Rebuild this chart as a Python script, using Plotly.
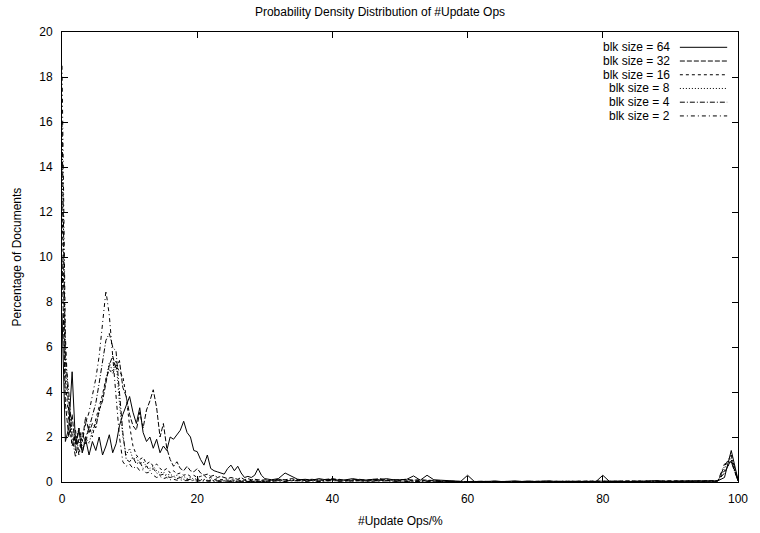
import plotly.graph_objects as go

# x positions (% update ops): 0..30 every 0.5, then 31..100 every 1
x_pct = [i * 0.5 for i in range(61)] + list(range(31, 101))

series_names = ["blk size = 64", "blk size = 32", "blk size = 16",
                "blk size = 8", "blk size = 4", "blk size = 2"]

blk64 = [7.5, 1.8, 2.4, 4.9, 1.7, 2.3, 1.3, 1.9, 1.2, 1.8,
         1.4, 2.0, 1.2, 1.6, 2.1, 1.3, 1.7, 2.5, 3.0, 3.4,
         3.8, 3.1, 2.6, 3.3, 2.2, 1.8, 2.0, 1.5, 1.9, 1.3,
         1.6, 1.4, 2.0, 1.9, 2.1, 2.3, 2.7, 2.2, 2.0, 1.4,
         1.35, 1.0, 0.75, 1.2, 0.6, 0.5, 0.45, 0.4, 0.35, 0.6,
         0.75, 0.5, 0.7, 0.4, 0.2, 0.25, 0.2, 0.3, 0.6, 0.3,
         0.15,
         0.1, 0.15, 0.4, 0.25, 0.1, 0.12, 0.08, 0.15, 0.1, 0.12,
         0.08, 0.1, 0.15, 0.1, 0.08, 0.12, 0.1, 0.15, 0.1, 0.1,
         0.12, 0.27, 0.08, 0.3, 0.1, 0.08, 0.06, 0.03, 0.03, 0.3,
         0.02, 0.03, 0.02, 0.05, 0.02, 0.03, 0.05, 0.02, 0.04, 0.02,
         0.03, 0.05, 0.02, 0.02, 0.04, 0.02, 0.05, 0.02, 0.02, 0.3,
         0.02, 0.02, 0.03, 0.02, 0.02, 0.02, 0.03, 0.06, 0.02, 0.02,
         0.02, 0.02, 0.02, 0.02, 0.02, 0.02, 0.05, 0.2, 1.4, 0.1]

blk32 = [10.0, 3.5, 2.0, 3.0, 1.4, 2.4, 1.8, 2.9, 2.2, 2.6,
         2.4, 3.2, 3.6, 4.5, 5.2, 5.6, 5.0, 5.4, 4.2, 3.8,
         3.0, 2.5, 2.3, 3.1, 2.4, 3.2, 3.6, 4.1, 3.3, 2.0,
         2.6, 1.5, 1.0, 0.7, 0.9, 0.6, 0.5, 0.7, 0.5, 0.45,
         0.6, 0.4, 0.3, 0.35, 0.25, 0.3, 0.2, 0.25, 0.2, 0.15,
         0.2, 0.15, 0.12, 0.2, 0.1, 0.15, 0.1, 0.12, 0.1, 0.08,
         0.1,
         0.08, 0.12, 0.1, 0.15, 0.08, 0.1, 0.12, 0.08, 0.1, 0.15,
         0.1, 0.08, 0.1, 0.12, 0.08, 0.1, 0.15, 0.1, 0.08, 0.1,
         0.12, 0.08, 0.1, 0.08, 0.06, 0.05, 0.04, 0.03, 0.02, 0.03,
         0.02, 0.02, 0.03, 0.02, 0.02, 0.03, 0.02, 0.02, 0.02, 0.03,
         0.02, 0.02, 0.02, 0.03, 0.02, 0.02, 0.02, 0.02, 0.02, 0.02,
         0.02, 0.02, 0.02, 0.02, 0.02, 0.02, 0.02, 0.03, 0.02, 0.02,
         0.02, 0.02, 0.02, 0.02, 0.02, 0.02, 0.05, 0.4, 1.0, 0.05]

blk16 = [12.5, 4.5, 2.8, 1.6, 2.1, 1.3, 2.2, 1.7, 2.5, 2.0,
         2.8, 3.3, 3.9, 4.6, 5.0, 4.8, 5.2, 4.9, 4.7, 3.8,
         2.5, 1.6, 1.2, 1.0, 1.1, 0.8, 0.9, 0.7, 0.8, 0.6,
         0.5, 0.6, 0.4, 0.5, 0.35, 0.4, 0.3, 0.35, 0.25, 0.3,
         0.2, 0.25, 0.3, 0.15, 0.2, 0.1, 0.15, 0.1, 0.12, 0.08,
         0.1, 0.08, 0.1, 0.06, 0.08, 0.05, 0.07, 0.05, 0.06, 0.04,
         0.05,
         0.06, 0.1, 0.08, 0.05, 0.12, 0.06, 0.08, 0.1, 0.05, 0.08,
         0.12, 0.06, 0.08, 0.05, 0.1, 0.06, 0.08, 0.05, 0.1, 0.06,
         0.05, 0.08, 0.06, 0.05, 0.04, 0.03, 0.03, 0.02, 0.02, 0.02,
         0.02, 0.02, 0.02, 0.02, 0.02, 0.02, 0.02, 0.02, 0.02, 0.02,
         0.02, 0.02, 0.02, 0.02, 0.02, 0.02, 0.02, 0.02, 0.02, 0.02,
         0.02, 0.02, 0.02, 0.02, 0.02, 0.02, 0.02, 0.02, 0.02, 0.02,
         0.02, 0.02, 0.02, 0.02, 0.02, 0.02, 0.05, 0.5, 0.9, 0.05]

blk8 = [14.5, 5.0, 3.5, 2.2, 1.8, 2.4, 1.5, 2.0, 1.7, 2.3,
        2.6, 3.1, 3.8, 4.6, 5.3, 4.9, 5.4, 3.5, 2.0, 1.2,
        1.5, 1.0, 1.1, 0.8, 0.9, 0.7, 0.6, 0.7, 0.5, 0.4,
        0.45, 0.3, 0.35, 0.25, 0.3, 0.2, 0.25, 0.15, 0.2, 0.12,
        0.15, 0.1, 0.12, 0.08, 0.1, 0.06, 0.08, 0.05, 0.07, 0.04,
        0.06, 0.04, 0.05, 0.03, 0.05, 0.03, 0.04, 0.03, 0.04, 0.02,
        0.03,
        0.05, 0.08, 0.04, 0.1, 0.06, 0.05, 0.08, 0.04, 0.06, 0.1,
        0.05, 0.07, 0.04, 0.08, 0.05, 0.06, 0.04, 0.08, 0.05, 0.04,
        0.06, 0.05, 0.04, 0.05, 0.03, 0.03, 0.02, 0.02, 0.02, 0.02,
        0.02, 0.02, 0.02, 0.02, 0.02, 0.02, 0.02, 0.02, 0.02, 0.02,
        0.02, 0.02, 0.02, 0.02, 0.02, 0.02, 0.02, 0.02, 0.02, 0.02,
        0.02, 0.02, 0.02, 0.02, 0.02, 0.02, 0.02, 0.02, 0.02, 0.02,
        0.02, 0.02, 0.02, 0.02, 0.02, 0.02, 0.04, 0.6, 1.1, 0.05]

blk4 = [16.0, 5.5, 4.0, 2.0, 1.1, 1.9, 1.3, 2.0, 2.4, 2.9,
        3.5, 4.4, 5.3, 6.3, 6.6, 6.0, 5.8, 4.0, 2.2, 1.0,
        0.9, 1.1, 0.8, 0.9, 0.6, 0.7, 0.5, 0.6, 0.4, 0.3,
        0.35, 0.25, 0.2, 0.25, 0.15, 0.2, 0.12, 0.1, 0.12, 0.08,
        0.1, 0.06, 0.08, 0.05, 0.07, 0.05, 0.06, 0.04, 0.05, 0.03,
        0.05, 0.03, 0.04, 0.03, 0.04, 0.02, 0.03, 0.02, 0.03, 0.02,
        0.02,
        0.04, 0.06, 0.03, 0.08, 0.05, 0.04, 0.06, 0.03, 0.05, 0.08,
        0.04, 0.05, 0.03, 0.06, 0.04, 0.05, 0.03, 0.06, 0.04, 0.03,
        0.05, 0.04, 0.03, 0.04, 0.03, 0.02, 0.02, 0.02, 0.02, 0.02,
        0.02, 0.02, 0.02, 0.02, 0.02, 0.02, 0.02, 0.02, 0.02, 0.02,
        0.02, 0.02, 0.02, 0.02, 0.02, 0.02, 0.02, 0.02, 0.02, 0.02,
        0.02, 0.02, 0.02, 0.02, 0.02, 0.02, 0.02, 0.02, 0.02, 0.02,
        0.02, 0.02, 0.02, 0.02, 0.02, 0.02, 0.04, 0.7, 1.2, 0.05]

blk2 = [18.5, 6.5, 3.0, 1.6, 2.3, 1.2, 1.8, 2.6, 3.1, 3.8,
        4.6, 5.6, 7.0, 8.5, 7.4, 5.5, 3.5, 2.0, 0.9, 0.7,
        0.8, 0.6, 0.7, 0.5, 0.55, 0.4, 0.45, 0.3, 0.2, 0.25,
        0.15, 0.2, 0.1, 0.12, 0.08, 0.1, 0.06, 0.07, 0.05, 0.06,
        0.04, 0.05, 0.03, 0.04, 0.03, 0.03, 0.02, 0.03, 0.02, 0.02,
        0.02, 0.02, 0.02, 0.01, 0.02, 0.01, 0.02, 0.01, 0.01, 0.01,
        0.01,
        0.03, 0.05, 0.02, 0.06, 0.04, 0.03, 0.05, 0.02, 0.04, 0.06,
        0.03, 0.04, 0.02, 0.05, 0.03, 0.04, 0.02, 0.05, 0.03, 0.02,
        0.04, 0.03, 0.02, 0.03, 0.02, 0.02, 0.01, 0.01, 0.01, 0.01,
        0.01, 0.01, 0.01, 0.01, 0.01, 0.01, 0.01, 0.01, 0.01, 0.01,
        0.01, 0.01, 0.01, 0.01, 0.01, 0.01, 0.01, 0.01, 0.01, 0.01,
        0.01, 0.01, 0.01, 0.01, 0.01, 0.01, 0.01, 0.01, 0.01, 0.01,
        0.01, 0.01, 0.01, 0.01, 0.01, 0.01, 0.03, 0.8, 0.9, 0.05]

all_series = [blk64, blk32, blk16, blk8, blk4, blk2]
dashes = ["solid", "5px,2px", "3px,3px", "1px,2px",
          "5px,2px,1px,2px", "4px,3px,1px,3px"]

FONT = "Liberation Sans, Arial, Helvetica, sans-serif"

fig = go.Figure()
for name, ys, d in zip(series_names, all_series, dashes):
    n = min(len(ys), len(x_pct))
    fig.add_trace(go.Scatter(x=x_pct[:n], y=ys[:n], mode="lines", name=name,
                             line=dict(color="black", width=1, dash=d),
                             showlegend=False))

# gnuplot-style legend (text right, sample line to the right)
row0 = 0.966
step = 0.0305
for i, (name, d) in enumerate(zip(series_names, dashes)):
    yy = row0 - i * step
    fig.add_annotation(x=0.903, y=yy, xref="paper", yref="paper", text=name,
                       showarrow=False, xanchor="right", yanchor="middle",
                       font=dict(family=FONT, size=12, color="black"))
    fig.add_shape(type="line", xref="paper", yref="paper",
                  x0=0.914, x1=0.984, y0=yy, y1=yy,
                  line=dict(color="black", width=1, dash=d))

fig.add_annotation(x=0.5, y=-0.087, xref="paper", yref="paper",
                   text="#Update Ops/%", showarrow=False,
                   xanchor="center", yanchor="middle",
                   font=dict(family=FONT, size=12, color="black"))
fig.add_annotation(x=-0.066, y=0.5, xref="paper", yref="paper",
                   text="Percentage of Documents", showarrow=False, textangle=-90,
                   xanchor="center", yanchor="middle",
                   font=dict(family=FONT, size=12, color="black"))

fig.update_layout(
    width=760, height=533,
    margin=dict(l=62, r=19, t=32, b=51),
    paper_bgcolor="white", plot_bgcolor="white",
    font=dict(family=FONT, size=12, color="black"),
    title=dict(text="Probability Density Distribution of #Update Ops",
               x=0.5, xref="container", xanchor="center",
               y=1 - 12 / 533, yref="container", yanchor="middle",
               font=dict(family=FONT, size=12, color="black")),
    xaxis=dict(range=[0, 100], tickvals=[0, 20, 40, 60, 80, 100],
               ticks="inside", ticklen=6, tickcolor="black",
               showline=True, linecolor="black", linewidth=1, mirror="allticks",
               showgrid=False, zeroline=False, ticklabelstandoff=6),
    yaxis=dict(range=[0, 20], tickvals=list(range(0, 21, 2)),
               ticks="inside", ticklen=6, tickcolor="black",
               showline=True, linecolor="black", linewidth=1, mirror="allticks",
               showgrid=False, zeroline=False, ticklabelstandoff=6),
)

fig.write_html("out.html")
